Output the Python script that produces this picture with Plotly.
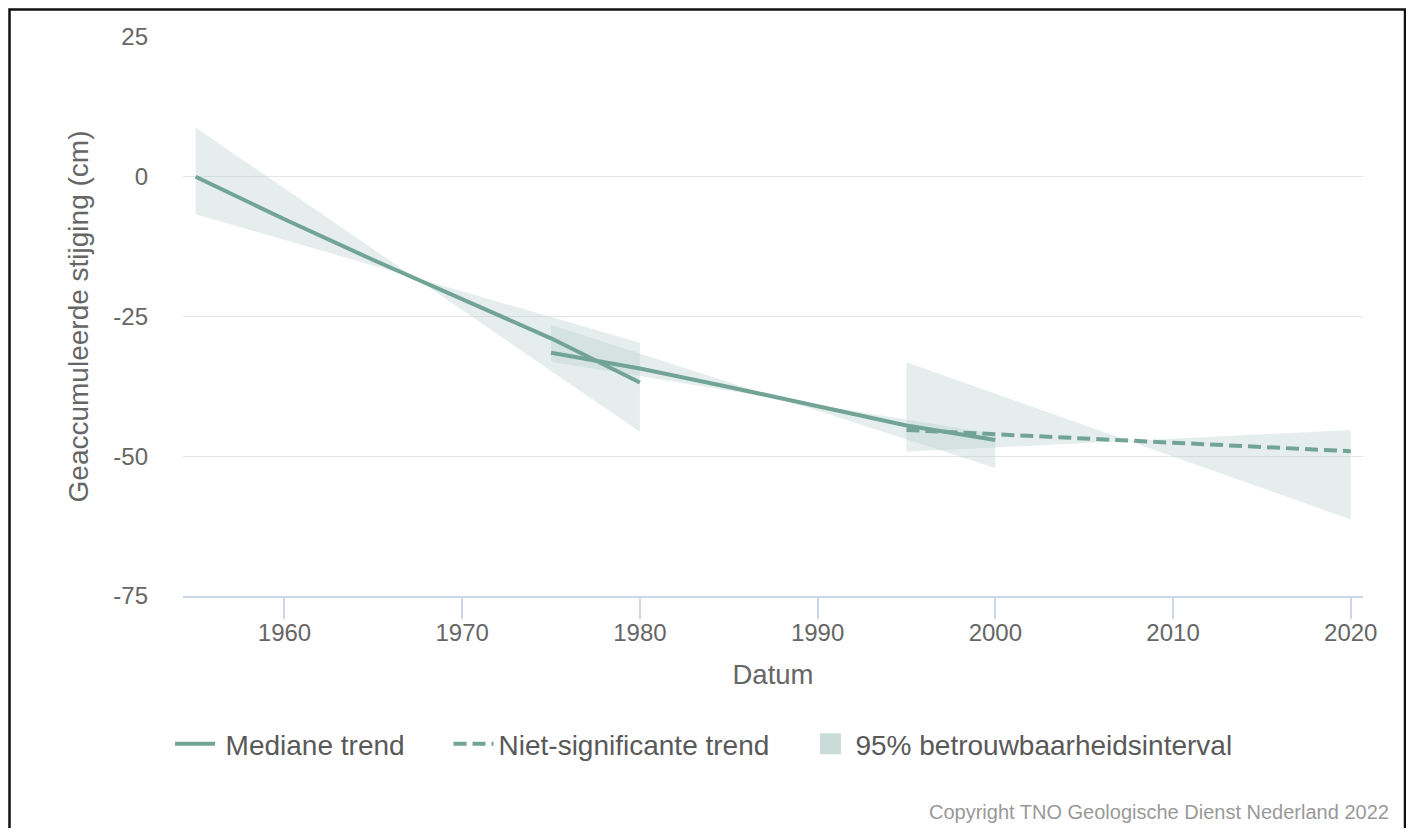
import plotly.graph_objects as go

# ---- data ----
# Segment 1 (1955-1980), significant trend
seg1_years = [1955, 1960, 1965, 1970, 1975, 1980]
seg1_median = [0.0, -7.6, -14.9, -21.9, -28.9, -36.8]
band1_years = [1955, 1980]
band1_edge_a = [8.8, -45.6]
band1_edge_b = [-6.7, -29.7]

# Segment 2 (1975-2000), significant trend
seg2_years = [1975, 1980, 1985, 1990, 1995, 2000]
seg2_median = [-31.5, -34.3, -37.6, -41.0, -44.5, -47.1]
band2_years = [1975, 2000]
band2_edge_a = [-26.5, -52.1]
band2_edge_b = [-33.1, -46.0]

# Segment 3 (1995-2020), non-significant trend
seg3_years = [1995, 2020]
seg3_median = [-45.3, -49.1]
band3_years = [1995, 2020]
band3_edge_a = [-33.2, -61.3]
band3_edge_b = [-49.2, -45.3]

x_ticks = [1960, 1970, 1980, 1990, 2000, 2010, 2020]
y_ticks = [25, 0, -25, -50, -75]

LINE = "#72a495"
FILL = "rgba(178,206,199,0.34)"
LEG_FILL = "#c9dcd8"
FONT = "Liberation Sans, Arial, sans-serif"

OFF = 8  # page body margin
W, H = 1398, 820
ML, MR, MT, MB = 175, 43, 29, 232
pw = W - ML - MR
ph = H - MT - MB


def pxx(p):
    # window pixel x -> paper x
    return (p - OFF - ML) / pw


def pxy(p):
    # window pixel y -> paper y
    return (H - MB - (p - OFF)) / ph


def band_poly(xs, a, b):
    return [xs[0], xs[1], xs[1], xs[0], xs[0]], [a[0], a[1], b[1], b[0], a[0]]


fig = go.Figure()

bands = [(band1_years, band1_edge_a, band1_edge_b),
         (band2_years, band2_edge_a, band2_edge_b),
         (band3_years, band3_edge_a, band3_edge_b)]
for bx, ba, bb in bands:
    px, py = band_poly(bx, ba, bb)
    fig.add_trace(go.Scatter(
        x=px, y=py, mode="lines", fill="toself", fillcolor=FILL,
        line=dict(width=0, color="rgba(0,0,0,0)"),
        legendgroup="band", showlegend=False, hoverinfo="skip"))

fig.add_trace(go.Scatter(x=seg1_years, y=seg1_median, mode="lines",
                         line=dict(color=LINE, width=4),
                         name="\u2009Mediane trend" + "\u00a0" * 5, legendgroup="med", legendrank=1))
fig.add_trace(go.Scatter(x=seg2_years, y=seg2_median, mode="lines",
                         line=dict(color=LINE, width=4),
                         name="Mediane trend", legendgroup="med", showlegend=False))
fig.add_trace(go.Scatter(x=seg3_years, y=seg3_median, mode="lines",
                         line=dict(color=LINE, width=4, dash="13px,6px"),
                         name="Niet-significante trend" + "\u00a0" * 4, legendrank=2))
# legend entry for the confidence bands
fig.add_trace(go.Scatter(x=[None], y=[None], mode="markers",
                         marker=dict(symbol="square", size=16, color=LEG_FILL,
                                     line=dict(color=LEG_FILL, width=5)),
                         name="95% betrouwbaarheidsinterval", legendgroup="band", legendrank=3))

fig.add_shape(type="rect", xref="paper", yref="paper",
              x0=pxx(9.5), x1=pxx(1405), y0=pxy(860), y1=pxy(9.5),
              line=dict(color="#111111", width=2.5), fillcolor="rgba(0,0,0,0)",
              layer="above")

fig.add_annotation(text="Copyright TNO Geologische Dienst Nederland 2022",
                   xref="paper", yref="paper", x=pxx(1391), y=pxy(812),
                   xanchor="right", yanchor="middle", showarrow=False,
                   font=dict(family=FONT, size=20, color="#999999"))

fig.update_layout(
    width=W, height=H,
    margin=dict(l=ML, r=MR, t=MT, b=MB, autoexpand=False),
    paper_bgcolor="white", plot_bgcolor="white",
    font=dict(family=FONT, color="#666666"),
    showlegend=True,
    legend=dict(orientation="h", x=pxx(704), xanchor="center",
                y=pxy(744), yanchor="middle",
                font=dict(family=FONT, size=28, color="#595959"),
                itemwidth=40, traceorder="normal"),
    xaxis=dict(range=[1954.29, 2020.69], tickvals=x_ticks, ticktext=[str(v) for v in x_ticks],
               showgrid=False, zeroline=False, showline=True, linecolor="#ccd6eb", linewidth=2,
               ticks="outside", ticklen=21, tickcolor="#ccd6eb", tickwidth=2,
               ticklabelstandoff=-7, tickangle=0,
               tickfont=dict(family=FONT, size=24, color="#666666"),
               title=dict(text="Datum", font=dict(family=FONT, size=27.5, color="#666666"), standoff=20)),
    yaxis=dict(range=[-75, 25], tickvals=y_ticks, ticktext=[str(v) for v in y_ticks],
               showgrid=True, gridcolor="#e6e6e6", gridwidth=1, zeroline=False, showline=False,
               ticks="", ticklabelstandoff=34,
               tickfont=dict(family=FONT, size=24, color="#666666"),
               title=dict(text="Geaccumuleerde stijging (cm)",
                          font=dict(family=FONT, size=28, color="#666666"), standoff=16)),
)

fig.write_html("out.html")
